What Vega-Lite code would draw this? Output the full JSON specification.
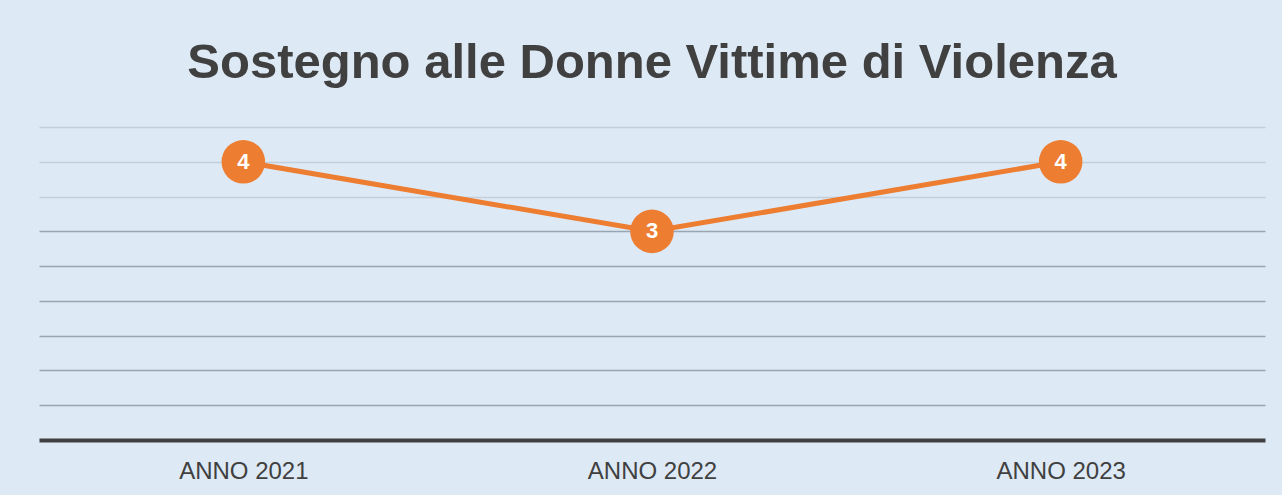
{
  "$schema": "https://vega.github.io/schema/vega-lite/v6.json",
  "autosize": {"type": "none"},
  "width": 1226,
  "height": 313,
  "padding": {"left": 39, "top": 127, "right": 17, "bottom": 55},
  "background": "#dde9f5",
  "title": {
    "text": "Sostegno alle Donne Vittime di Violenza",
    "font": "Liberation Sans",
    "fontSize": 49,
    "fontWeight": "bold",
    "color": "#404040",
    "anchor": "middle",
    "baseline": "alphabetic",
    "offset": 0
  },
  "data": {
    "values": [
      {"anno": "ANNO 2021", "valore": 4},
      {"anno": "ANNO 2022", "valore": 3},
      {"anno": "ANNO 2023", "valore": 4}
    ]
  },
  "config": {
    "view": {"stroke": null},
    "axis": {"labelFont": "Liberation Sans"}
  },
  "encoding": {
    "x": {
      "field": "anno",
      "type": "nominal",
      "sort": null,
      "title": null,
      "axis": {
        "labelAngle": 0,
        "labelFontSize": 24,
        "labelColor": "#404040",
        "labelPadding": 19,
        "domainColor": "#404040",
        "domainWidth": 4,
        "ticks": false,
        "grid": false
      }
    },
    "y": {
      "field": "valore",
      "type": "quantitative",
      "scale": {"domain": [0, 4.5], "nice": false, "zero": true},
      "title": null,
      "axis": {
        "values": [0.5, 1, 1.5, 2, 2.5, 3, 3.5, 4, 4.5],
        "labels": false,
        "ticks": false,
        "domain": false,
        "grid": true,
        "gridWidth": 1.5,
        "gridColor": {"condition": {"test": "datum.value >= 3.4", "value": "#c3cfdb"}, "value": "#98a6b4"}
      }
    }
  },
  "layer": [
    {"mark": {"type": "line", "color": "#ed7d31", "strokeWidth": 5}},
    {"mark": {"type": "point", "filled": true, "opacity": 1, "color": "#ed7d31", "size": 1900, "shape": "circle"}},
    {
      "mark": {"type": "text", "color": "white", "font": "Liberation Sans", "fontSize": 22, "fontWeight": "bold", "baseline": "middle", "align": "center"},
      "encoding": {"text": {"field": "valore", "type": "quantitative"}}
    }
  ]
}
